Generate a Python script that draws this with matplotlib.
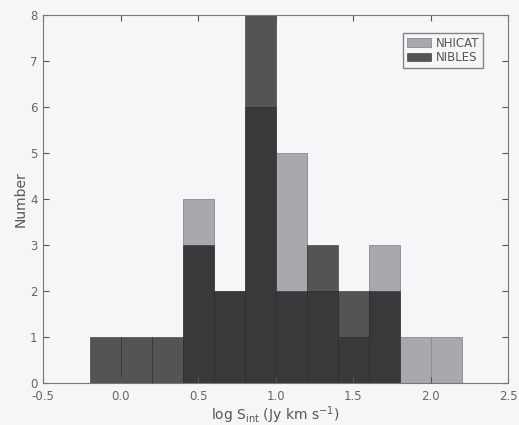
import numpy as np
import matplotlib
matplotlib.use("Agg")
import matplotlib.pyplot as plt

# bin edges in log S (Jy km/s)
bin_edges = [-0.2, 0.0, 0.2, 0.4, 0.6, 0.8, 1.0, 1.2, 1.4, 1.6, 1.8, 2.0, 2.2]
# counts per bin
nhicat_counts = [0, 0, 0, 4, 2, 6, 5, 2, 1, 3, 1, 1]
nibles_counts = [1, 1, 1, 3, 2, 8, 2, 3, 2, 2, 0, 0]

xticks = [-0.5, 0.0, 0.5, 1.0, 1.5, 2.0, 2.5]
yticks = [0, 1, 2, 3, 4, 5, 6, 7, 8]

centers = [(a + b) / 2 for a, b in zip(bin_edges[:-1], bin_edges[1:])]

fig = plt.figure(figsize=(5.19, 4.25), dpi=100, facecolor="#f6f6f8")
ax = fig.add_axes([0.083, 0.099, 0.896, 0.866])
ax.set_facecolor("#f6f6f8")

ax.hist(centers, bins=bin_edges, weights=nhicat_counts, color="#a9a9ad",
        edgecolor="#8a8a8e", linewidth=0.6, label="NHICAT")
ax.hist(centers, bins=bin_edges, weights=nibles_counts, color="black", alpha=0.66,
        edgecolor="#303030", linewidth=0.6, label="NIBLES")

ax.set_xlim(-0.5, 2.5)
ax.set_ylim(0, 8)
ax.set_xticks(xticks)
ax.set_xticklabels(["-0.5", "0.0", "0.5", "1.0", "1.5", "2.0", "2.5"])
ax.set_yticks(yticks)
ax.tick_params(direction="in", top=True, right=True, labelsize=8.5, colors="#555555",
               labelcolor="#666666", length=4)
ax.tick_params(axis="x", pad=5)
ax.tick_params(axis="y", pad=4)
for s in ax.spines.values():
    s.set_color("#777777")

ax.set_xlabel(r"log S$_{\rm int}$ (Jy km s$^{-1}$)", fontsize=10, color="#555555", labelpad=1)
ax.set_ylabel("Number", fontsize=10, color="#555555", labelpad=2)

leg = ax.legend(loc="upper right", fontsize=8.5, frameon=True, fancybox=False,
                handlelength=2.0, handletextpad=0.4, borderpad=0.35, labelspacing=0.1,
                borderaxespad=1.5, bbox_to_anchor=(0.985, 1.0))
leg.get_frame().set_edgecolor("#666666")
leg.get_frame().set_facecolor("#f6f6f8")
for t in leg.get_texts():
    t.set_color("#555555")

fig.savefig("out.png", dpi=100, facecolor=fig.get_facecolor())
plt.close(fig)
